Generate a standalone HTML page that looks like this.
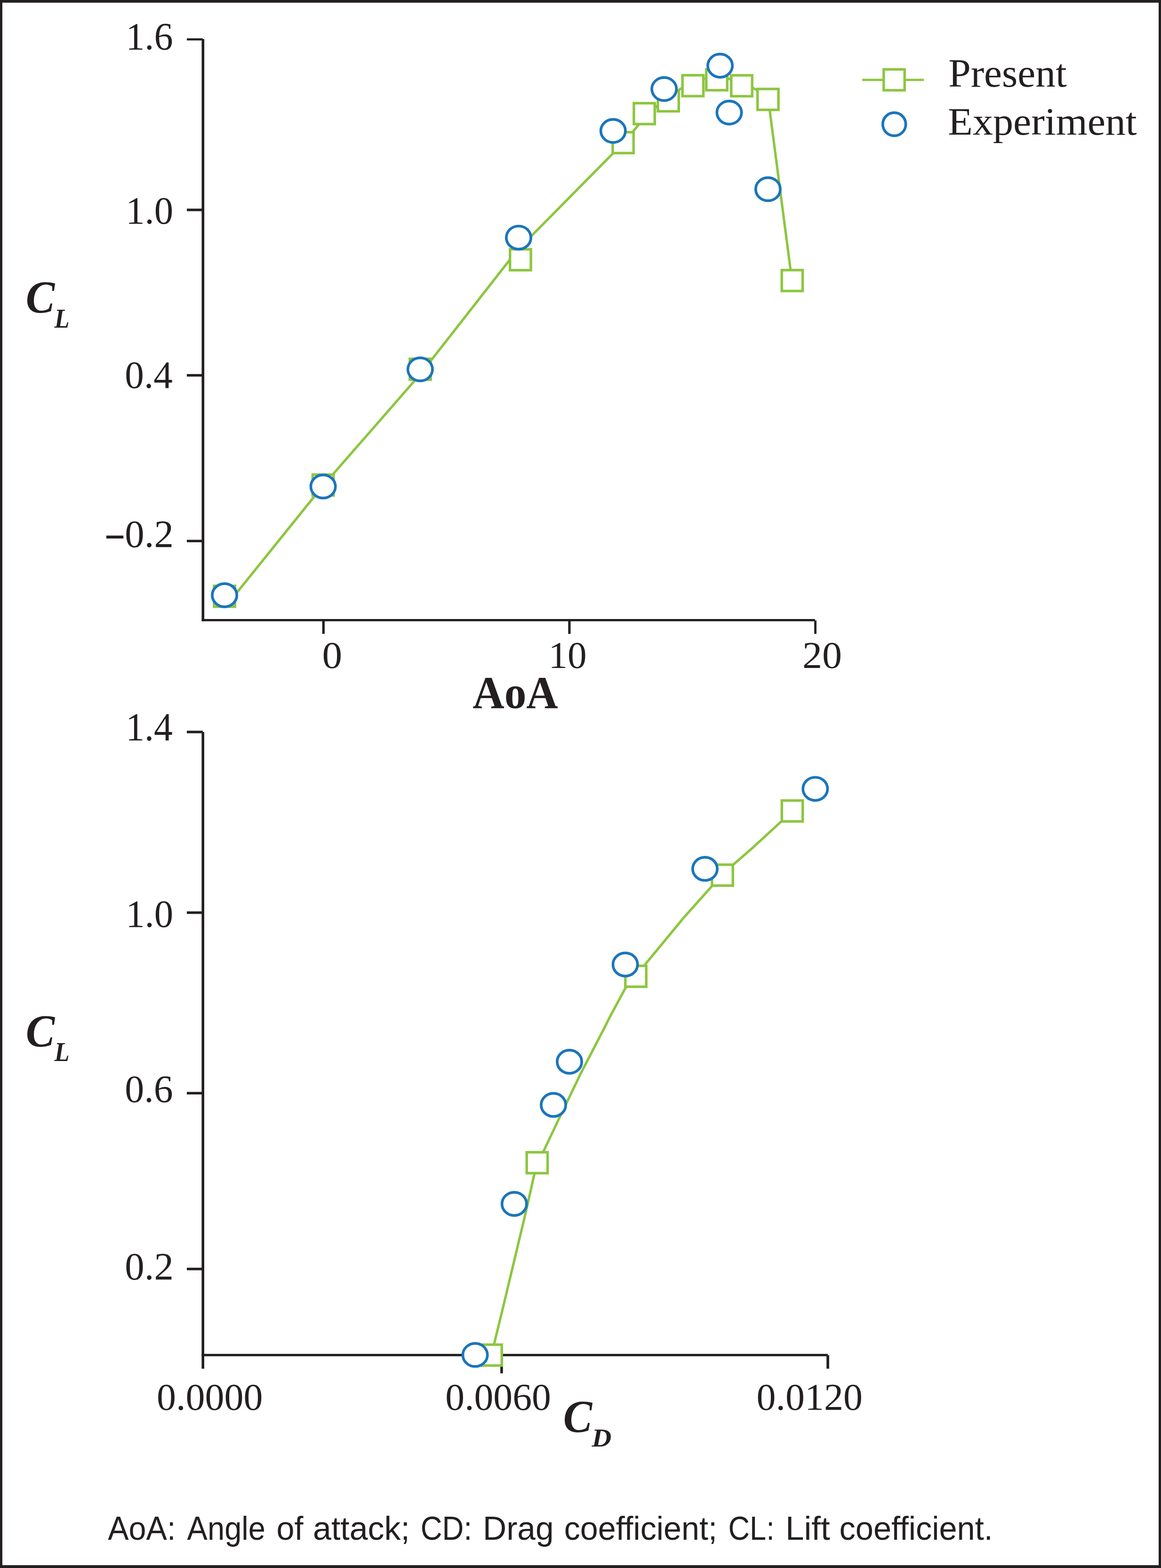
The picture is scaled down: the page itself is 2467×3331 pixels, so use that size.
<!DOCTYPE html>
<html lang="en">
<head>
<meta charset="utf-8">
<title>Lift and drag coefficient comparison</title>
<style>
html,body{margin:0;padding:0;background:#fff;}
body{width:2467px;height:3331px;overflow:hidden;}
svg{display:block;}
text{white-space:pre;}
</style>
</head>
<body>
<svg width="2467" height="3331" viewBox="0 0 2467 3331">
<rect width="2467" height="3331" fill="#fff"/>
<rect x="0.00" y="0.00" width="2467.00" height="5.70" fill="#231f20"/>
<rect x="0.00" y="3325.00" width="2467.00" height="6.00" fill="#231f20"/>
<rect x="0.00" y="0.00" width="5.00" height="3331.00" fill="#231f20"/>
<rect x="2462.00" y="0.00" width="5.00" height="3331.00" fill="#231f20"/>
<g id="top-chart">
<polyline points="497.0,1266.7 686.6,1031.5 893.0,795.0 1098.5,532.3 1324.1,304.0 1377.0,241.4 1420.1,205.0 1472.4,172.5 1523.0,161.0 1576.0,174.0 1631.6,204.0 1682.8,596.0" fill="none" stroke="#8cc63f" stroke-width="5.2" stroke-linejoin="round"/>
<rect x="428.50" y="83.00" width="5.60" height="1236.80" fill="#231f20"/>
<rect x="428.50" y="1315.00" width="1303.40" height="4.80" fill="#231f20"/>
<rect x="397.00" y="81.40" width="34.00" height="4.50" fill="#231f20"/>
<rect x="397.00" y="443.20" width="34.00" height="5.40" fill="#231f20"/>
<rect x="397.00" y="794.60" width="34.00" height="5.40" fill="#231f20"/>
<rect x="397.00" y="1146.70" width="34.00" height="5.20" fill="#231f20"/>
<rect x="684.70" y="1317.00" width="5.20" height="29.60" fill="#231f20"/>
<rect x="1207.30" y="1317.00" width="5.20" height="29.60" fill="#231f20"/>
<rect x="1730.15" y="1318.00" width="4.80" height="28.60" fill="#231f20"/>
<rect x="454.90" y="1244.50" width="44.40" height="44.40" fill="#fff" stroke="#8cc63f" stroke-width="5.4"/>
<rect x="664.40" y="1008.20" width="44.40" height="44.40" fill="#fff" stroke="#8cc63f" stroke-width="5.4"/>
<rect x="870.80" y="762.20" width="44.40" height="44.40" fill="#fff" stroke="#8cc63f" stroke-width="5.4"/>
<rect x="1083.70" y="529.60" width="44.40" height="44.40" fill="#fff" stroke="#8cc63f" stroke-width="5.4"/>
<rect x="1301.90" y="280.80" width="44.40" height="44.40" fill="#fff" stroke="#8cc63f" stroke-width="5.4"/>
<rect x="1346.90" y="219.20" width="44.40" height="44.40" fill="#fff" stroke="#8cc63f" stroke-width="5.4"/>
<rect x="1397.90" y="192.00" width="44.40" height="44.40" fill="#fff" stroke="#8cc63f" stroke-width="5.4"/>
<rect x="1450.20" y="159.80" width="44.40" height="44.40" fill="#fff" stroke="#8cc63f" stroke-width="5.4"/>
<rect x="1500.80" y="147.30" width="44.40" height="44.40" fill="#fff" stroke="#8cc63f" stroke-width="5.4"/>
<rect x="1553.80" y="160.00" width="44.40" height="44.40" fill="#fff" stroke="#8cc63f" stroke-width="5.4"/>
<rect x="1609.70" y="189.00" width="44.40" height="44.40" fill="#fff" stroke="#8cc63f" stroke-width="5.4"/>
<rect x="1661.20" y="573.80" width="44.40" height="44.40" fill="#fff" stroke="#8cc63f" stroke-width="5.4"/>
<ellipse cx="477.10" cy="1264.50" rx="26.15" ry="24.55" fill="#fff" stroke="#1b75bc" stroke-width="5.7"/>
<ellipse cx="686.60" cy="1033.50" rx="26.15" ry="24.55" fill="#fff" stroke="#1b75bc" stroke-width="5.7"/>
<ellipse cx="892.80" cy="784.60" rx="26.15" ry="24.55" fill="#fff" stroke="#1b75bc" stroke-width="5.7"/>
<ellipse cx="1102.00" cy="504.80" rx="26.15" ry="24.55" fill="#fff" stroke="#1b75bc" stroke-width="5.7"/>
<ellipse cx="1302.80" cy="278.10" rx="26.15" ry="24.55" fill="#fff" stroke="#1b75bc" stroke-width="5.7"/>
<ellipse cx="1411.20" cy="189.10" rx="26.15" ry="24.55" fill="#fff" stroke="#1b75bc" stroke-width="5.7"/>
<ellipse cx="1530.10" cy="139.50" rx="26.15" ry="24.55" fill="#fff" stroke="#1b75bc" stroke-width="5.7"/>
<ellipse cx="1549.50" cy="239.10" rx="26.15" ry="24.55" fill="#fff" stroke="#1b75bc" stroke-width="5.7"/>
<ellipse cx="1631.90" cy="401.90" rx="26.15" ry="24.55" fill="#fff" stroke="#1b75bc" stroke-width="5.7"/>
</g>
<g id="legend">
<rect x="1832.20" y="167.30" width="130.90" height="4.80" fill="#8cc63f"/>
<rect x="1877.80" y="147.40" width="44.40" height="44.40" fill="#fff" stroke="#8cc63f" stroke-width="5.4"/>
<ellipse cx="1900.20" cy="263.90" rx="24.45" ry="24.45" fill="#fff" stroke="#1b75bc" stroke-width="5.7"/>
</g>
<g id="bottom-chart">
<polyline points="1044.3,2878.7 1050.1,2854.3 1068.3,2780.0 1116.2,2579.7 1135.3,2494.9 1142.5,2470.0 1155.3,2445.0 1186.1,2380.0 1233.4,2281.7 1286.1,2180.0 1296.2,2159.7 1328.9,2098.9 1351.0,2074.0 1370.7,2049.0 1444.2,1960.0 1452.6,1949.7 1511.6,1883.8 1535.1,1859.1 1559.8,1835.3 1600.8,1799.7 1659.8,1745.3 1683.5,1722.8" fill="none" stroke="#8cc63f" stroke-width="5.2" stroke-linejoin="round"/>
<rect x="428.40" y="1555.00" width="5.60" height="1352.60" fill="#231f20"/>
<rect x="428.40" y="2876.10" width="1330.50" height="5.10" fill="#231f20"/>
<rect x="397.00" y="1552.30" width="34.00" height="5.40" fill="#231f20"/>
<rect x="397.00" y="1936.10" width="34.00" height="5.40" fill="#231f20"/>
<rect x="397.00" y="2319.60" width="34.00" height="5.40" fill="#231f20"/>
<rect x="397.00" y="2693.10" width="34.00" height="5.40" fill="#231f20"/>
<rect x="1063.10" y="2878.00" width="5.60" height="39.50" fill="#231f20"/>
<rect x="1756.20" y="2879.00" width="5.70" height="28.60" fill="#231f20"/>
<rect x="1021.80" y="2856.50" width="44.40" height="44.40" fill="#fff" stroke="#8cc63f" stroke-width="5.4"/>
<rect x="1119.20" y="2447.80" width="44.40" height="44.40" fill="#fff" stroke="#8cc63f" stroke-width="5.4"/>
<rect x="1328.80" y="2051.80" width="44.40" height="44.40" fill="#fff" stroke="#8cc63f" stroke-width="5.4"/>
<rect x="1512.90" y="1836.90" width="44.40" height="44.40" fill="#fff" stroke="#8cc63f" stroke-width="5.4"/>
<rect x="1661.30" y="1700.60" width="44.40" height="44.40" fill="#fff" stroke="#8cc63f" stroke-width="5.4"/>
<ellipse cx="1009.60" cy="2878.40" rx="26.15" ry="24.55" fill="#fff" stroke="#1b75bc" stroke-width="5.7"/>
<ellipse cx="1092.80" cy="2557.50" rx="26.15" ry="24.55" fill="#fff" stroke="#1b75bc" stroke-width="5.7"/>
<ellipse cx="1176.00" cy="2347.20" rx="26.15" ry="24.55" fill="#fff" stroke="#1b75bc" stroke-width="5.7"/>
<ellipse cx="1210.00" cy="2255.50" rx="26.15" ry="24.55" fill="#fff" stroke="#1b75bc" stroke-width="5.7"/>
<ellipse cx="1328.60" cy="2049.00" rx="26.15" ry="24.55" fill="#fff" stroke="#1b75bc" stroke-width="5.7"/>
<ellipse cx="1498.00" cy="1845.70" rx="26.15" ry="24.55" fill="#fff" stroke="#1b75bc" stroke-width="5.7"/>
<ellipse cx="1732.30" cy="1675.80" rx="26.15" ry="24.55" fill="#fff" stroke="#1b75bc" stroke-width="5.7"/>
</g>
<g id="labels">
<text transform="translate(267.17,105.00) scale(0.9642,1)" style="font-family:'Liberation Serif','DejaVu Serif',serif;font-size:83.33px" fill="#231f20">1.6</text>
<text transform="translate(267.13,474.80) scale(0.9788,1)" style="font-family:'Liberation Serif','DejaVu Serif',serif;font-size:82.56px" fill="#231f20">1.0</text>
<text transform="translate(265.35,823.50) scale(0.9814,1)" style="font-family:'Liberation Serif','DejaVu Serif',serif;font-size:82.71px" fill="#231f20">0.4</text>
<text transform="translate(221.90,1182.32) scale(0.9758,1.5500)" style="font-family:'Liberation Serif','DejaVu Serif',serif;font-size:80.00px" fill="#231f20">−</text><text transform="translate(265.29,1161.70) scale(1.0110,1)" style="font-family:'Liberation Serif','DejaVu Serif',serif;font-size:81.95px" fill="#231f20">0.2</text>
<text transform="translate(684.59,1419.20) scale(1.0516,1)" style="font-family:'Liberation Serif','DejaVu Serif',serif;font-size:81.05px" fill="#231f20">0</text>
<text transform="translate(1165.49,1419.20) scale(1.0008,1)" style="font-family:'Liberation Serif','DejaVu Serif',serif;font-size:81.20px" fill="#231f20">10</text>
<text transform="translate(1704.91,1419.20) scale(1.0383,1)" style="font-family:'Liberation Serif','DejaVu Serif',serif;font-size:81.05px" fill="#231f20">20</text>
<text transform="translate(1004.27,1503.70) scale(0.9597,1)" style="font-family:'Liberation Serif','DejaVu Serif',serif;font-weight:bold;font-size:97.27px" fill="#231f20">AoA</text>
<text transform="translate(2015.14,183.90) scale(1.0123,1)" style="font-family:'Liberation Serif','DejaVu Serif',serif;font-size:84.43px" fill="#231f20">Present</text>
<text transform="translate(2014.32,285.80) scale(1.0423,1)" style="font-family:'Liberation Serif','DejaVu Serif',serif;font-size:82.58px" fill="#231f20">Experiment</text>
<text transform="translate(267.23,1573.00) scale(0.9520,1)" style="font-family:'Liberation Serif','DejaVu Serif',serif;font-size:83.66px" fill="#231f20">1.4</text>
<text transform="translate(267.13,1969.30) scale(0.9860,1)" style="font-family:'Liberation Serif','DejaVu Serif',serif;font-size:81.95px" fill="#231f20">1.0</text>
<text transform="translate(265.33,2341.30) scale(0.9971,1)" style="font-family:'Liberation Serif','DejaVu Serif',serif;font-size:82.11px" fill="#231f20">0.6</text>
<text transform="translate(265.29,2718.00) scale(1.0129,1)" style="font-family:'Liberation Serif','DejaVu Serif',serif;font-size:81.80px" fill="#231f20">0.2</text>
<text transform="translate(333.02,2994.60) scale(1.0087,1)" style="font-family:'Liberation Serif','DejaVu Serif',serif;font-size:81.35px" fill="#231f20">0.0000</text>
<text transform="translate(946.33,2994.60) scale(1.0036,1)" style="font-family:'Liberation Serif','DejaVu Serif',serif;font-size:81.35px" fill="#231f20">0.0060</text>
<text transform="translate(1607.62,2994.60) scale(1.0078,1)" style="font-family:'Liberation Serif','DejaVu Serif',serif;font-size:81.35px" fill="#231f20">0.0120</text>
<text transform="translate(54.87,664.30) scale(0.9404,1)" style="font-family:'Liberation Serif','DejaVu Serif',serif;font-weight:bold;font-style:italic;font-size:98.03px" fill="#231f20">C</text><text transform="translate(115.56,695.80) scale(0.9271,1)" style="font-family:'Liberation Serif','DejaVu Serif',serif;font-weight:bold;font-style:italic;font-size:56.77px" fill="#231f20">L</text>
<text transform="translate(54.87,2222.60) scale(0.9433,1)" style="font-family:'Liberation Serif','DejaVu Serif',serif;font-weight:bold;font-style:italic;font-size:97.73px" fill="#231f20">C</text><text transform="translate(115.56,2254.00) scale(0.9373,1)" style="font-family:'Liberation Serif','DejaVu Serif',serif;font-weight:bold;font-style:italic;font-size:56.15px" fill="#231f20">L</text>
<text transform="translate(1196.67,3041.60) scale(0.9522,1)" style="font-family:'Liberation Serif','DejaVu Serif',serif;font-weight:bold;font-style:italic;font-size:96.82px" fill="#231f20">C</text><text transform="translate(1257.39,3073.40) scale(1.0443,1)" style="font-family:'Liberation Serif','DejaVu Serif',serif;font-weight:bold;font-style:italic;font-size:55.42px" fill="#231f20">D</text>
<text transform="translate(229.17,3271.40) scale(0.9555,1)" style="font-family:'Liberation Sans','DejaVu Sans',sans-serif;font-size:69.62px" fill="#231f20">AoA:</text>
<text transform="translate(397.57,3271.40) scale(0.9345,1)" style="font-family:'Liberation Sans','DejaVu Sans',sans-serif;font-size:69.62px" fill="#231f20">Angle</text>
<text transform="translate(587.57,3271.40) scale(0.9810,1)" style="font-family:'Liberation Sans','DejaVu Sans',sans-serif;font-size:69.62px" fill="#231f20">of</text>
<text transform="translate(665.05,3271.40) scale(1.0039,1)" style="font-family:'Liberation Sans','DejaVu Sans',sans-serif;font-size:69.62px" fill="#231f20">attack;</text>
<text transform="translate(893.73,3271.40) scale(0.9118,1)" style="font-family:'Liberation Sans','DejaVu Sans',sans-serif;font-size:69.62px" fill="#231f20">CD:</text>
<text transform="translate(1025.94,3271.40) scale(0.9987,1)" style="font-family:'Liberation Sans','DejaVu Sans',sans-serif;font-size:69.62px" fill="#231f20">Drag</text>
<text transform="translate(1198.73,3271.40) scale(0.9809,1)" style="font-family:'Liberation Sans','DejaVu Sans',sans-serif;font-size:69.62px" fill="#231f20">coefficient;</text>
<text transform="translate(1547.54,3271.40) scale(0.9065,1)" style="font-family:'Liberation Sans','DejaVu Sans',sans-serif;font-size:69.62px" fill="#231f20">CL:</text>
<text transform="translate(1668.91,3271.40) scale(1.0210,1)" style="font-family:'Liberation Sans','DejaVu Sans',sans-serif;font-size:69.62px" fill="#231f20">Lift</text>
<text transform="translate(1783.62,3271.40) scale(0.9838,1)" style="font-family:'Liberation Sans','DejaVu Sans',sans-serif;font-size:69.62px" fill="#231f20">coefficient.</text>
</g>
</svg>
</body>
</html>
